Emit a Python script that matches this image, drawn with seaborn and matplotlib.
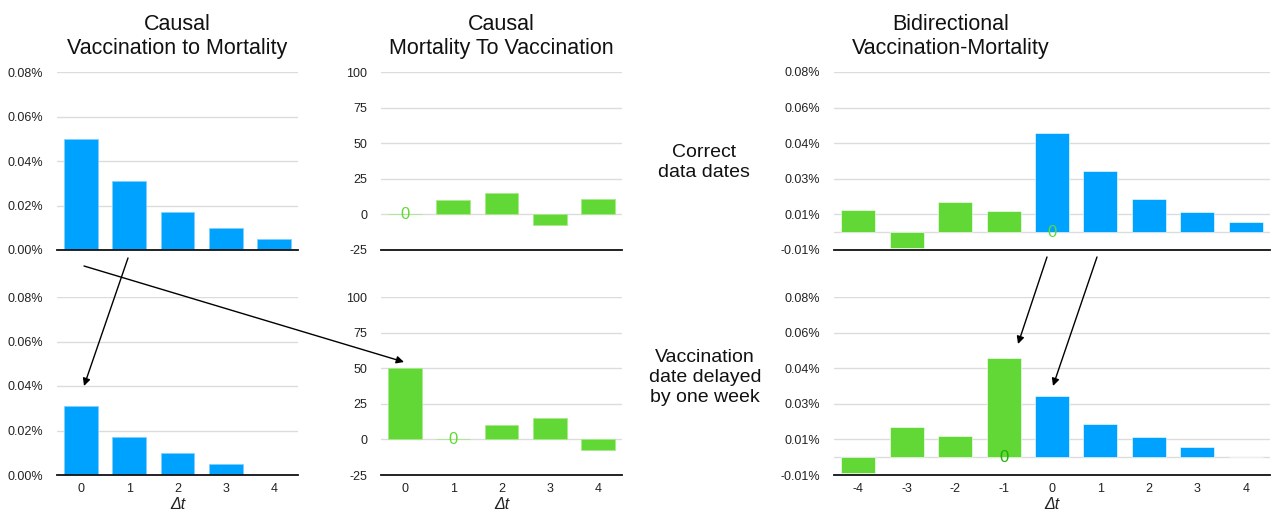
import matplotlib
matplotlib.use("Agg")
import matplotlib.pyplot as plt
from matplotlib.patches import FancyArrowPatch
import seaborn as sns

# ---- data -------------------------------------------------------------
lag_pos = [0, 1, 2, 3, 4]
lag_all = [-4, -3, -2, -1, 0, 1, 2, 3, 4]

# vaccination -> mortality (percent)
v2m_correct = [0.050, 0.031, 0.017, 0.010, 0.005]
v2m_delayed = [0.031, 0.017, 0.010, 0.005, 0.0]

# mortality -> vaccination
m2v_correct = [0, 10, 15, -7.5, 11]
m2v_delayed = [50, 0, 10, 15, -7.5]

# bidirectional (percent)
bi_correct = [0.0108, -0.0078, 0.0147, 0.0102, 0.0490, 0.0303, 0.0163, 0.0099, 0.0050]
bi_delayed = [-0.0078, 0.0147, 0.0102, 0.0490, 0.0303, 0.0163, 0.0099, 0.0050, 0.0]
bi_correct_dir = ["m2v", "m2v", "m2v", "m2v", "v2m", "v2m", "v2m", "v2m", "v2m"]
bi_delayed_dir = ["m2v", "m2v", "m2v", "m2v", "v2m", "v2m", "v2m", "v2m", "v2m"]

pct_ticks = [0.0, 0.02, 0.04, 0.06, 0.08]
pct_labels = ["0.00%", "0.02%", "0.04%", "0.06%", "0.08%"]
m2v_ticks = [-25, 0, 25, 50, 75, 100]
bi_ticks = [-0.00875, 0.00875, 0.02625, 0.04375, 0.06125, 0.07875]
bi_labels = ["-0.01%", "0.01%", "0.03%", "0.04%", "0.06%", "0.08%"]

titles = ["Causal\nVaccination to Mortality",
          "Causal\nMortality To Vaccination",
          "Bidirectional\nVaccination-Mortality"]
row_labels = ["Correct\ndata dates", "Vaccination\ndate delayed\nby one week"]

BLUE = "#00A2FF"
GREEN = "#61D836"
DARK_GREEN = "#1DB100"
GRID = "#DCDCDC"

sns.set_theme(style="white")
plt.rcParams["font.family"] = ["Liberation Sans", "DejaVu Sans"]

W, H = 1272, 514
fig = plt.figure(figsize=(W / 100, H / 100), dpi=100)


def px_axes(x1, x2, y1, y2):
    return fig.add_axes([x1 / W, 1 - y2 / H, (x2 - x1) / W, (y2 - y1) / H])


def style(ax, ticks, labels, lo, hi, xticks_on):
    ax.set_ylim(lo, hi)
    ax.set_yticks(ticks)
    ax.set_yticklabels(labels)
    ax.yaxis.grid(True, color=GRID, lw=1)
    ax.set_axisbelow(True)
    for s in ["top", "right", "left"]:
        ax.spines[s].set_visible(False)
    ax.spines["bottom"].set_color("#111111")
    ax.spines["bottom"].set_linewidth(1.3)
    ax.tick_params(axis="y", length=0, pad=10, labelsize=9, labelcolor="#222222")
    ax.tick_params(axis="x", length=0, pad=6, labelsize=9, labelcolor="#222222")
    ax.set_ylabel("")
    if xticks_on:
        ax.set_xlabel("Δt", fontsize=11.5, style="italic", labelpad=1, color="#222222")
    else:
        ax.set_xlabel("")
        ax.set_xticklabels([])


rows = [(72, 250), (297, 475)]
edge_kw = dict(linewidth=0.6)

# left column: vaccination -> mortality
for (y1, y2), vals, last in [(rows[0], v2m_correct, False), (rows[1], v2m_delayed, True)]:
    ax = px_axes(57, 298, y1, y2)
    sns.barplot(x=lag_pos, y=vals, color=BLUE, width=0.7, ax=ax,
                edgecolor="#7fd0ff", saturation=1, **edge_kw)
    ax.set_xlim(-0.5, 4.5)
    style(ax, pct_ticks, pct_labels, 0, 0.08, last)

# middle column: mortality -> vaccination
for (y1, y2), vals, last in [(rows[0], m2v_correct, False), (rows[1], m2v_delayed, True)]:
    ax = px_axes(381, 622, y1, y2)
    sns.barplot(x=lag_pos, y=vals, color=GREEN, width=0.7, ax=ax,
                edgecolor="#a8ea8a", saturation=1, **edge_kw)
    ax.set_xlim(-0.5, 4.5)
    style(ax, m2v_ticks, [str(t) for t in m2v_ticks], -25, 100, last)
    for i, v in enumerate(vals):
        if v == 0:
            ax.text(i, v, "0", ha="center", va="center", color=GREEN, fontsize=12)

# right column: bidirectional
palette = {"m2v": GREEN, "v2m": BLUE}
bi_zero_label = [(4, GREEN), (3, DARK_GREEN)]
for (y1, y2), vals, dirs, last, zl in [
        (rows[0], bi_correct, bi_correct_dir, False, bi_zero_label[0]),
        (rows[1], bi_delayed, bi_delayed_dir, True, bi_zero_label[1])]:
    ax = px_axes(834, 1270, y1, y2)
    sns.barplot(x=lag_all, y=vals, hue=dirs, palette=palette, dodge=False,
                width=0.7, legend=False, ax=ax, saturation=1,
                edgecolor="white", linewidth=0.4)
    ax.set_xlim(-0.5, 8.5)
    ax.axhline(0, color=GRID, lw=1, zorder=0.5)
    style(ax, bi_ticks, bi_labels, -0.00875, 0.07875, last)
    pos, col = zl
    ax.text(pos, 0, "0", ha="center", va="center", color=col, fontsize=12)

# column titles
for xc, t in zip([177, 501, 951], titles):
    fig.text(xc / W, 1 - 54 / H, t, ha="center", va="baseline",
             fontsize=15.5, linespacing=1.17, color="#111111")

# row captions
fig.text(704 / W, 1 - 177 / H, row_labels[0], ha="center", va="baseline",
         fontsize=14, linespacing=1.25, color="#111111")
fig.text(705 / W, 1 - 402 / H, row_labels[1], ha="center", va="baseline",
         fontsize=14, linespacing=1.25, color="#111111")

# shift arrows between rows
arrows = [((128, 258), (84, 386)),
          ((84, 266), (404, 362)),
          ((1047, 257), (1018, 344)),
          ((1097, 257), (1053, 386))]
for (xa, ya), (xb, yb) in arrows:
    fig.add_artist(FancyArrowPatch((xa / W, 1 - ya / H), (xb / W, 1 - yb / H),
                                   transform=fig.transFigure, arrowstyle="-|>",
                                   mutation_scale=11, lw=1, color="black",
                                   shrinkA=0, shrinkB=0))

fig.savefig("out.png", dpi=100, facecolor="white")
